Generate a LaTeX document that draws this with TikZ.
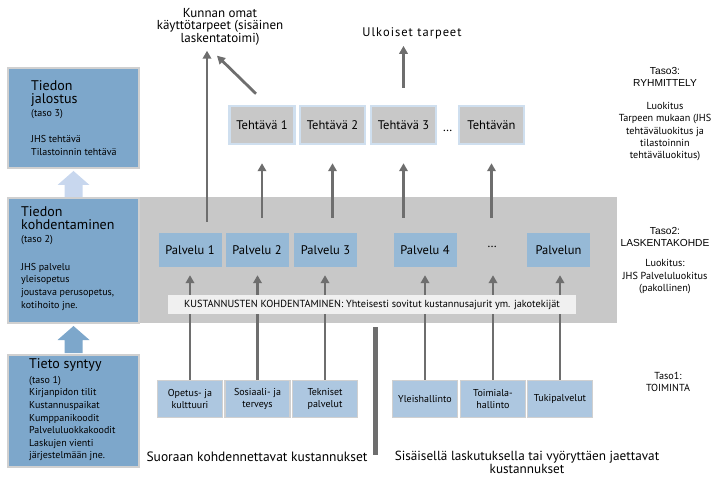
\documentclass[tikz,border=0pt]{standalone}
\usepackage{fontspec}
\setmainfont{PT Sans}
\newfontfamily\arialfont{Liberation Sans}
\usepackage{tikz}
\usetikzlibrary{arrows.meta,positioning,calc}
\usepackage{xcolor}

\definecolor{infoBlue}{RGB}{125,167,203}
\definecolor{palveluBlue}{RGB}{150,185,214}
\definecolor{toimintaBlue}{RGB}{173,199,224}
\definecolor{laskentaGray}{RGB}{200,200,200}
\definecolor{edgeGray}{RGB}{208,208,208}
\definecolor{tehtavaEdge}{RGB}{207,223,239}
\definecolor{nuoliGray}{RGB}{110,110,110}
\definecolor{paleArrow}{RGB}{200,215,238}
\definecolor{barGray}{RGB}{240,240,240}

\newcommand{\isofont}{\fontsize{14}{14}\selectfont}
\newcommand{\pienifont}{\fontsize{10}{12.6}\selectfont}
\newcommand{\laatikkofont}{\fontsize{12.5}{13}\selectfont}

\tikzset{
  infobox/.style={draw=edgeGray, line width=2pt, fill=infoBlue,
    minimum width=131, inner sep=0pt},
  infoteksti/.style={anchor=west, align=left, inner sep=0pt, font=\pienifont},
  palvelubox/.style={fill=palveluBlue, minimum width=63, minimum height=34,
    inner sep=0pt, font=\laatikkofont},
  tehtavabox/.style={draw=tehtavaEdge, line width=2.5pt, fill=laskentaGray,
    minimum width=65, minimum height=38, inner sep=0pt, font=\laatikkofont},
  toimintabox/.style={draw=edgeGray, line width=1.5pt, fill=toimintaBlue,
    minimum width=65, minimum height=37, inner sep=0pt, align=center,
    font=\fontsize{10}{11.5}\selectfont},
  tasoteksti/.style={align=center, font=\fontsize{10.2}{12.2}\selectfont},
  nuoli/.style={draw=nuoliGray, line width=2.8pt,
    -{Triangle[length=8pt,width=8.5pt]}},
  viiva/.style={draw=nuoliGray, line width=2.8pt}
}

\begin{document}
\begin{tikzpicture}[x=1pt,y=-1pt]
  \useasboundingbox (0,0) rectangle (720,478);

  % laskenta-alue taustalla
  \node[fill=laskentaGray, minimum width=478, minimum height=126, inner sep=0pt]
    (alue) at (378,260) {};

  % vasemman reunan tasot
  \node[infobox, minimum height=100] (jalostus) at (73.5,118) {};
  \node[infoteksti] (jalostusteksti) at ($(jalostus.west)+(24,0)$)
    {{\isofont Tiedon}\\{\isofont jalostus}\\[1pt]
     (taso 3)\\[13pt]
     JHS tehtävä\\Tilastoinnin tehtävä};
  \node[infobox, minimum height=125] (kohdentaminen) at (73.5,260.5) {};
  \node[infoteksti] (kohdentamisteksti) at ($(kohdentaminen.west)+(14,-2)$)
    {{\isofont Tiedon}\\{\isofont kohdentaminen}\\[1pt]
     (taso 2)\\[15pt]
     JHS palvelu\\yleisopetus\\joustava perusopetus,\\kotihoito jne.};
  \node[infobox, minimum height=112] (syntyy) at (73.5,411) {};
  \node[infoteksti] (syntyyteksti) at ($(syntyy.west)+(22,-1)$)
    {{\isofont Tieto syntyy}\\[2pt]
     (taso 1)\\Kirjanpidon tilit\\Kustannuspaikat\\Kumppanikoodit\\
     Palveluluokkakoodit\\Laskujen vienti\\järjestelmään jne.};

  % leveät nuolet tasojen välissä
  \fill[paleArrow] ($(jalostus.south)+(0,2)$) -- ++(16,14) -- ++(-7,0)
    -- ($(kohdentaminen.north)+(9,0)$) -- ($(kohdentaminen.north)+(-9,0)$)
    -- ($(jalostus.south)+(-9,16)$) -- ++(-7,0) -- cycle;
  \fill[infoBlue] ($(kohdentaminen.south)+(0,2)$) -- ++(16,14) -- ++(-7,0)
    -- ($(syntyy.north)+(9,-1)$) -- ($(syntyy.north)+(-9,-1)$)
    -- ($(kohdentaminen.south)+(-9,16)$) -- ++(-7,0) -- cycle;

  % palvelut
  \node[palvelubox] (p1) at (190,250) {Palvelu 1};
  \node[palvelubox] (p2) at (257,250) {Palvelu 2};
  \node[palvelubox] (p3) at (325.5,250) {Palvelu 3};
  \node[palvelubox] (p4) at (425,250) {Palvelu 4};
  \node[font=\laatikkofont] (pdots) at (492,247) {\dots};
  \node[palvelubox] (pn) at (558.5,250) {Palvelun};

  % kohdentamisen palkki
  \node[fill=barGray, minimum width=408, minimum height=19, inner sep=0pt,
        font=\fontsize{10.3}{11}\selectfont] (palkki) at (372,304.5)
    {KUSTANNUSTEN KOHDENTAMINEN: Yhteisesti sovitut kustannusajurit ym. jakotekijät};

  % tehtävät
  \node[tehtavabox] (t1) at (262,125) {Tehtävä 1};
  \node[tehtavabox] (t2) at (332.5,125) {Tehtävä 2};
  \node[tehtavabox] (t3) at (403.5,125) {Tehtävä 3};
  \node[font=\laatikkofont] (tdots) at (447.5,131) {\dots};
  \node[tehtavabox] (tn) at (491.5,125) {Tehtävän};

  % toiminnot
  \node[toimintabox] (b1) at (190,399) {Opetus- ja\\kulttuuri};
  \node[toimintabox] (b2) at (257.5,399) {Sosiaali- ja\\terveys};
  \node[toimintabox] (b3) at (325,399) {Tekniset\\palvelut};
  \node[toimintabox] (b4) at (425,399) {Yleishallinto};
  \node[toimintabox] (b5) at (493,399) {Toimiala-\\hallinto};
  \node[toimintabox] (b6) at (560,399) {Tukipalvelut};

  % tarpeet ylhäällä
  \node[align=center, inner sep=0pt, font=\fontsize{13}{12}\selectfont] (kunnan) at (220,27)
    {Kunnan omat\\käyttötarpeet (sisäinen\\laskentatoimi)};
  \node[inner sep=0pt, font=\fontsize{12.5}{12}\selectfont\addfontfeatures{LetterSpace=8}]
    (ulkoiset) at (412,33) {Ulkoiset tarpeet};

  % nuolet toiminnoista palveluihin
  \foreach \b/\p in {b1/p1, b2/p2, b3/p3, b4/p4, b5/pn, b6/pn} {
    \draw[viiva] (\b.north) -- (\b.north |- palkki.south);
    \draw[nuoli, shorten >=8pt] (\b.north |- palkki.north) -- (\b.north |- \p.south);
  }

  % nuolet palveluista tehtäviin
  \foreach \t/\p in {t1/p2, t2/p3, t3/p4, tn/p4}
    \draw[nuoli, shorten <=15pt, shorten >=18pt] (\t.south |- \p.north) -- (\t.south);

  \coordinate (k0) at ($(p1.north)+(17,-11)$);
  \draw[nuoli, shorten >=5pt] (k0) -- (k0 |- kunnan.south);
  \draw[nuoli] ($(t1.north)+(-6,-11)$) -- ($(kunnan.south)+(-3,10)$);
  \draw[nuoli, shorten <=17pt, shorten >=7pt] (t3.north) -- (t3.north |- ulkoiset.south);

  % jakoviiva ja alatekstit
  \draw[draw=nuoliGray, line width=5pt] (375,327) -- (375,455);
  \node[font=\fontsize{13.5}{13}\selectfont] (suoraan) at (257,457)
    {Suoraan kohdennettavat kustannukset};
  \node[align=center, font=\fontsize{13.2}{13.5}\selectfont] (sisainen) at (527,462.5)
    {Sisäisellä laskutuksella tai vyöryttäen jaettavat\\kustannukset};

  % tasojen selitteet oikealla
  \node[tasoteksti] (taso3) at (665,114)
    {{\arialfont Taso3:}\\{\arialfont RYHMITTELY}\\[11pt]
     Luokitus\\Tarpeen mukaan (JHS\\tehtäväluokitus ja\\tilastoinnin\\tehtäväluokitus)};
  \node[tasoteksti] (taso2) at (665,260.5)
    {{\arialfont Taso2:}\\{\arialfont LASKENTAKOHDE}\\[8pt]
     Luokitus:\\JHS Palveluluokitus\\(pakollinen)};
  \node[tasoteksti] (taso1) at (668,382) {Taso1:\\TOIMINTA};
\end{tikzpicture}
\end{document}
